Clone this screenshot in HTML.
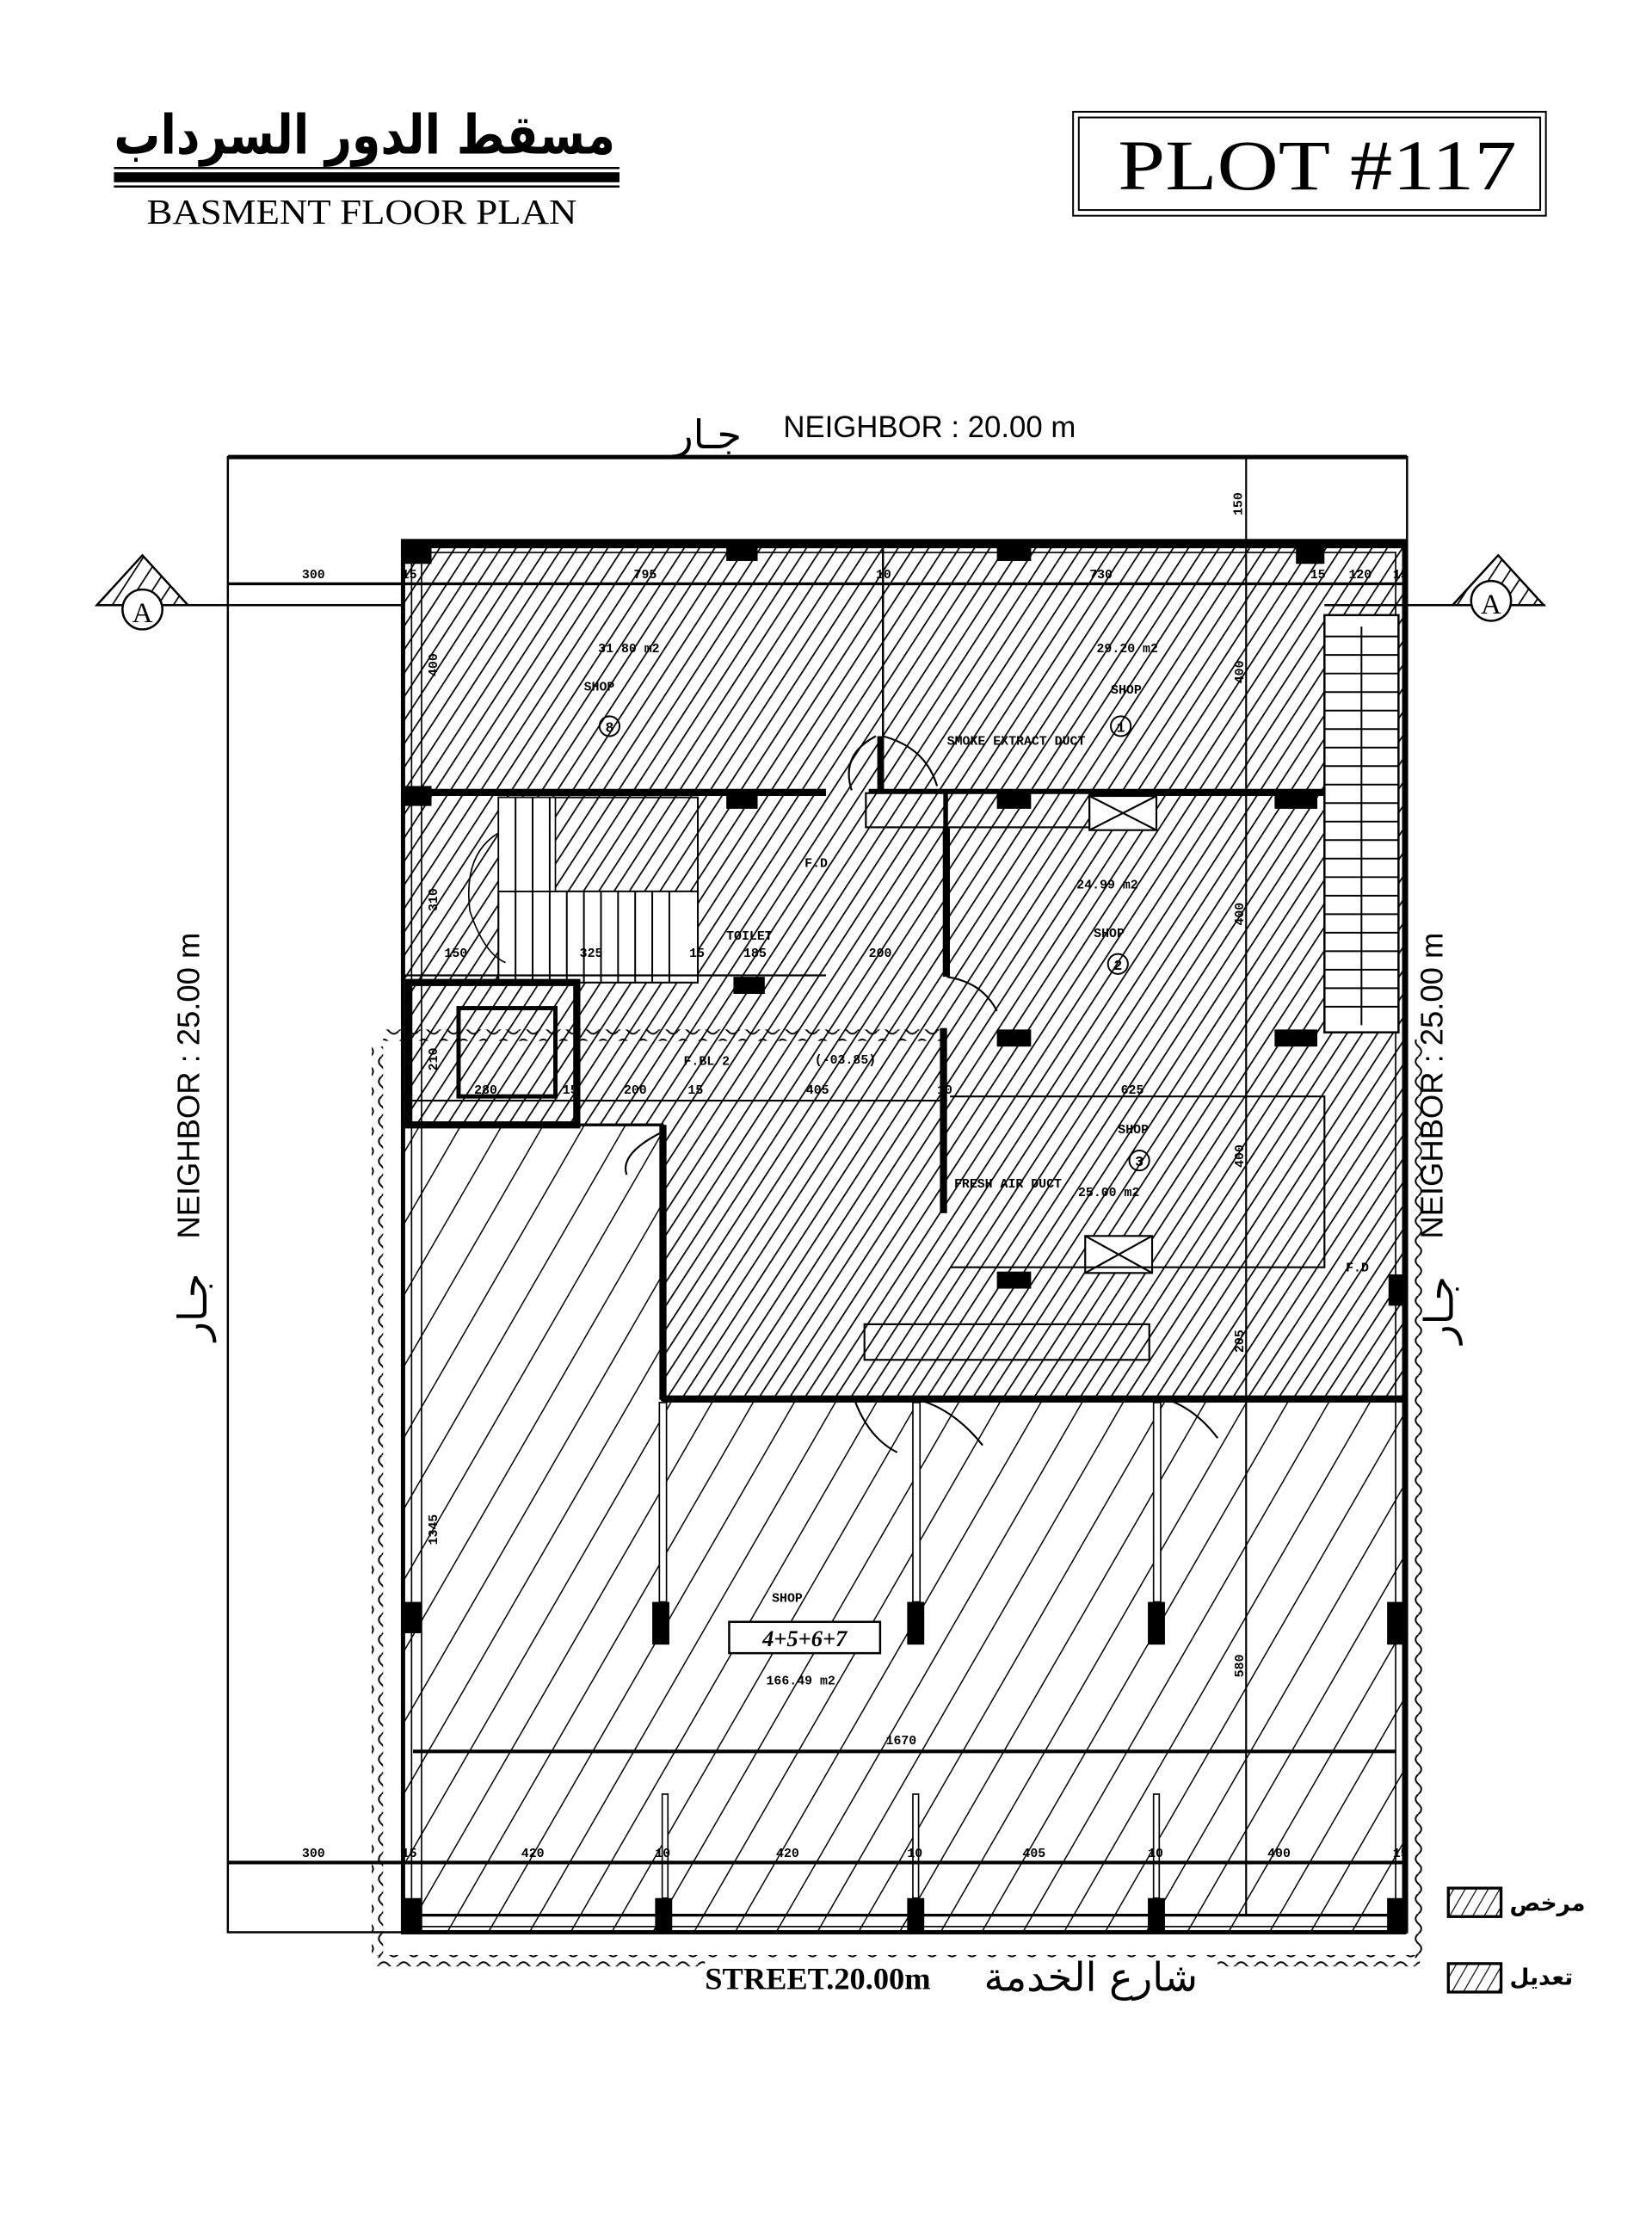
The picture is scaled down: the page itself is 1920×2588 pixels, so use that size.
<!DOCTYPE html>
<html><head><meta charset="utf-8"><style>
html,body{margin:0;padding:0;background:#fff;}
svg{display:block;}
.d{font-family:"Liberation Mono",monospace;font-size:9px;font-weight:bold;fill:#000;}
.s{font-family:"Liberation Sans",sans-serif;}
</style></head><body>
<svg width="1920" height="2588" viewBox="0 0 1160 1564" preserveAspectRatio="none" xmlns="http://www.w3.org/2000/svg">
<defs>
<pattern id="hd" patternUnits="userSpaceOnUse" width="9" height="20" patternTransform="rotate(33)">
<rect width="9" height="20" fill="#fff"/><line x1="0" y1="0" x2="0" y2="20" stroke="#000" stroke-width="2.1"/></pattern>
<pattern id="hs" patternUnits="userSpaceOnUse" width="25" height="40" patternTransform="rotate(30)">
<rect width="25" height="40" fill="#fff"/><line x1="0" y1="0" x2="0" y2="40" stroke="#000" stroke-width="1.8"/></pattern>
<pattern id="wh" patternUnits="userSpaceOnUse" width="14" height="8"><path d="M0 4 q3.5 -4 7 0 t7 0" fill="none" stroke="#000" stroke-width="1.2"/></pattern>
<pattern id="wv" patternUnits="userSpaceOnUse" width="8" height="14"><path d="M4 0 q-4 3.5 0 7 t0 7" fill="none" stroke="#000" stroke-width="1.2"/></pattern>
<pattern id="lg" patternUnits="userSpaceOnUse" width="7" height="20" patternTransform="rotate(30)"><rect width="7" height="20" fill="#fff"/><line x1="0" y1="0" x2="0" y2="20" stroke="#000" stroke-width="1.4"/></pattern>
</defs>

<!-- Title -->
<text x="80" y="108" textLength="352" lengthAdjust="spacingAndGlyphs" font-family="'DejaVu Sans',sans-serif" font-weight="bold" font-size="38">مسقط الدور السرداب</text>
<line x1="80" y1="118" x2="435" y2="118" stroke="#000" stroke-width="1.5"/>
<rect x="80" y="121" width="355" height="7" fill="#000"/>
<line x1="80" y1="131" x2="435" y2="131" stroke="#000" stroke-width="1.5"/>
<text x="103" y="157" font-family="'Liberation Serif',serif" font-size="25" textLength="302" lengthAdjust="spacingAndGlyphs">BASMENT   FLOOR   PLAN</text>

<rect x="753.5" y="78.5" width="332" height="73" fill="none" stroke="#000" stroke-width="1.2"/>
<rect x="757.5" y="82.5" width="324" height="65" fill="none" stroke="#000" stroke-width="1.2"/>
<text x="785" y="133" font-family="'Liberation Serif',serif" font-size="50" textLength="280" lengthAdjust="spacingAndGlyphs">PLOT #117</text>

<!-- top neighbor -->
<text x="497" y="315" text-anchor="middle" font-family="'DejaVu Sans',sans-serif" font-size="28">جـار</text>
<text x="550" y="307" class="s" font-size="21">NEIGHBOR : 20.00 m</text>

<!-- plot outline -->
<rect x="160" y="321" width="828" height="1036" fill="none" stroke="#000" stroke-width="1.5"/>
<line x1="160" y1="321" x2="988" y2="321" stroke="#000" stroke-width="3"/>

<!-- hatched regions -->
<polygon points="283,380 986,380 986,983 465,983 465,790 283,790" fill="url(#hd)" stroke="#000" stroke-width="2"/>
<polygon points="283,790 465,790 465,983 986,983 986,1357 283,1357" fill="url(#hs)" stroke="#000" stroke-width="2"/>

<!-- wavy modification outline -->
<rect x="261" y="735" width="8" height="640" fill="url(#wv)"/>
<rect x="992" y="730" width="8" height="645" fill="url(#wv)"/>
<rect x="265" y="1373" width="732" height="8" fill="url(#wh)"/>
<rect x="269" y="723" width="395" height="8" fill="url(#wh)"/>

<!-- outer borders -->
<rect x="283" y="380" width="703" height="977" fill="none" stroke="#000" stroke-width="3"/>
<line x1="283" y1="383" x2="986" y2="383" stroke="#000" stroke-width="4"/>
<rect x="289" y="388" width="691" height="965" fill="none" stroke="#000" stroke-width="1"/>

<!-- right stair -->
<rect x="930" y="432" width="52" height="293" fill="#fff" stroke="#000" stroke-width="1.5"/>
<g stroke="#000" stroke-width="1.2">
<line x1="930" y1="447" x2="982" y2="447"/><line x1="930" y1="460" x2="982" y2="460"/><line x1="930" y1="473" x2="982" y2="473"/><line x1="930" y1="486" x2="982" y2="486"/><line x1="930" y1="499" x2="982" y2="499"/><line x1="930" y1="512" x2="982" y2="512"/><line x1="930" y1="525" x2="982" y2="525"/><line x1="930" y1="538" x2="982" y2="538"/><line x1="930" y1="551" x2="982" y2="551"/><line x1="930" y1="564" x2="982" y2="564"/><line x1="930" y1="577" x2="982" y2="577"/><line x1="930" y1="590" x2="982" y2="590"/><line x1="930" y1="603" x2="982" y2="603"/><line x1="930" y1="616" x2="982" y2="616"/><line x1="930" y1="629" x2="982" y2="629"/><line x1="930" y1="642" x2="982" y2="642"/><line x1="930" y1="655" x2="982" y2="655"/><line x1="930" y1="668" x2="982" y2="668"/><line x1="930" y1="681" x2="982" y2="681"/><line x1="930" y1="694" x2="982" y2="694"/><line x1="930" y1="707" x2="982" y2="707"/>
<line x1="956" y1="440" x2="956" y2="720"/>
</g>

<!-- left stair -->
<rect x="350" y="560" width="140" height="130" fill="url(#hd)" stroke="#000" stroke-width="1.2"/>
<rect x="350" y="626" width="140" height="64" fill="#fff" stroke="#000" stroke-width="1.2"/>
<rect x="350" y="560" width="40" height="66" fill="#fff" stroke="#000"/>
<g stroke="#000" stroke-width="1.2">
<line x1="362" y1="560" x2="362" y2="690"/><line x1="374" y1="560" x2="374" y2="690"/><line x1="386" y1="560" x2="386" y2="690"/>
<line x1="398" y1="626" x2="398" y2="690"/><line x1="410" y1="626" x2="410" y2="690"/><line x1="422" y1="626" x2="422" y2="690"/><line x1="434" y1="626" x2="434" y2="690"/><line x1="446" y1="626" x2="446" y2="690"/><line x1="458" y1="626" x2="458" y2="690"/><line x1="470" y1="626" x2="470" y2="690"/>
</g>
<path d="M350 585 Q325 600 330 640 Q340 670 355 676" fill="none" stroke="#000"/>

<!-- lift box -->
<rect x="287" y="690" width="118" height="100" fill="none" stroke="#000" stroke-width="5"/>
<rect x="322" y="708" width="68" height="62" fill="none" stroke="#000" stroke-width="3"/>

<!-- walls -->
<g fill="#000">
<rect x="283" y="554" width="297" height="5"/><rect x="610" y="554" width="320" height="5"/>
<rect x="662" y="558" width="5" height="128"/>
<rect x="660" y="722" width="5" height="130"/>
<rect x="463" y="790" width="5" height="193"/>
<rect x="465" y="980" width="521" height="5"/>
<rect x="616" y="517" width="4" height="38"/>
</g>
<g fill="none" stroke="#000" stroke-width="1.3">
<rect x="608" y="557" width="55" height="24" fill="url(#hd)"/>
<rect x="665" y="557" width="100" height="24" fill="url(#hd)"/>
<rect x="765" y="559" width="47" height="24" fill="#fff"/>
<line x1="765" y1="559" x2="812" y2="583"/><line x1="812" y1="559" x2="765" y2="583"/>
<rect x="762" y="868" width="47" height="26" fill="#fff"/>
<line x1="762" y1="868" x2="809" y2="894"/><line x1="809" y1="868" x2="762" y2="894"/>
<rect x="607" y="930" width="200" height="25" fill="url(#hd)"/>
<polyline points="667,890 930,890 930,770 667,770"/>
<line x1="283" y1="685" x2="580" y2="685"/>
<line x1="283" y1="773" x2="665" y2="773"/>
<path d="M615 517 Q590 530 598 555 M620 517 Q650 525 658 552"/>
<path d="M665 686 Q690 690 700 710 M465 795 Q435 810 440 825"/>
<path d="M600 983 Q610 1010 630 1020 M645 983 Q670 990 690 1015 M820 983 Q840 990 855 1010"/>
</g>

<!-- columns -->
<g fill="#000">
<rect x="283" y="380" width="20" height="16"/><rect x="510" y="380" width="22" height="14"/><rect x="700" y="380" width="24" height="14"/><rect x="910" y="380" width="20" height="16"/>
<rect x="283" y="552" width="20" height="14"/><rect x="510" y="556" width="22" height="12"/><rect x="700" y="556" width="24" height="12"/><rect x="895" y="556" width="30" height="12"/>
<rect x="515" y="686" width="22" height="12"/><rect x="700" y="723" width="24" height="12"/><rect x="895" y="723" width="30" height="12"/>
<rect x="700" y="893" width="24" height="12"/>
<rect x="975" y="895" width="11" height="22"/>
<rect x="284" y="1125" width="12" height="22"/><rect x="458" y="1125" width="12" height="30"/><rect x="637" y="1125" width="12" height="30"/><rect x="806" y="1125" width="12" height="30"/><rect x="974" y="1125" width="12" height="30"/>
<rect x="284" y="1333" width="12" height="24"/><rect x="460" y="1333" width="12" height="24"/><rect x="637" y="1333" width="12" height="24"/><rect x="806" y="1333" width="12" height="24"/><rect x="974" y="1333" width="12" height="24"/>
</g>
<g fill="#fff" stroke="#000" stroke-width="1">
<rect x="463" y="985" width="5" height="140"/><rect x="641" y="985" width="5" height="140"/><rect x="810" y="985" width="5" height="140"/>
<rect x="465" y="1260" width="4" height="73"/><rect x="641" y="1260" width="4" height="73"/><rect x="810" y="1260" width="4" height="73"/>
</g>
<line x1="290" y1="1230" x2="980" y2="1230" stroke="#000" stroke-width="2.5"/>
<line x1="290" y1="1345" x2="980" y2="1345" stroke="#000" stroke-width="2"/>

<!-- dimension lines -->
<line x1="160" y1="410" x2="988" y2="410" stroke="#000" stroke-width="2"/>
<line x1="160" y1="1308" x2="988" y2="1308" stroke="#000" stroke-width="2.5"/>
<line x1="875" y1="320" x2="875" y2="1345" stroke="#000" stroke-width="1.3"/>
<line x1="296" y1="388" x2="296" y2="1357" stroke="#000" stroke-width="1"/>
<line x1="620" y1="383" x2="620" y2="555" stroke="#000" stroke-width="1.5"/>

<!-- section markers -->
<g stroke="#000" stroke-width="1.5">
<line x1="70" y1="425" x2="283" y2="425"/><line x1="930" y1="425" x2="1085" y2="425"/>
<path d="M68 425 L100 390 L132 425 Z" fill="url(#hd)"/>
<path d="M1020 425 L1052 390 L1084 425 Z" fill="url(#hd)"/>
<circle cx="100" cy="428" r="14" fill="#fff"/><circle cx="1047" cy="422" r="14" fill="#fff"/>
</g>
<text x="100" y="437" text-anchor="middle" font-family="'Liberation Serif',serif" font-size="20">A</text>
<text x="1047" y="431" text-anchor="middle" font-family="'Liberation Serif',serif" font-size="20">A</text>

<!-- dimension texts -->
<g class="d">
<text x="212" y="406">300</text><text x="282" y="406">15</text><text x="445" y="406">795</text><text x="615" y="406">10</text><text x="765" y="406">730</text><text x="920" y="406">15</text><text x="947" y="406">120</text><text x="978" y="406">15</text>
<text x="212" y="1304">300</text><text x="282" y="1304">15</text><text x="366" y="1304">420</text><text x="460" y="1304">10</text><text x="545" y="1304">420</text><text x="637" y="1304">10</text><text x="718" y="1304">405</text><text x="806" y="1304">10</text><text x="890" y="1304">400</text><text x="978" y="1304">15</text>
<text x="622" y="1225">1670</text>
<text x="420" y="458">31.80 m2</text><text x="410" y="485">SHOP</text>
<text x="770" y="458">29.20 m2</text><text x="780" y="487">SHOP</text>
<text x="756" y="624">24.99 m2</text><text x="768" y="658">SHOP</text>
<text x="787" y="768">625</text><text x="785" y="796">SHOP</text>
<text x="757" y="840">25.00 m2</text>
<text x="542" y="1125">SHOP</text><text x="538" y="1183">166.49 m2</text>
<text x="665" y="523">SMOKE EXTRACT DUCT</text>
<text x="670" y="834">FRESH AIR DUCT</text>
<text x="565" y="609">F.D</text><text x="945" y="893">F.D</text>
<text x="510" y="660">TOILET</text>
<text x="480" y="748">F.BL/2</text><text x="572" y="747">(-03.85)</text>
<text x="312" y="672">150</text><text x="407" y="672">325</text><text x="484" y="672">15</text><text x="522" y="672">185</text><text x="610" y="672">200</text>
<text x="333" y="768">280</text><text x="395" y="768">15</text><text x="438" y="768">200</text><text x="483" y="768">15</text><text x="566" y="768">405</text><text x="658" y="768">10</text>
</g>
<g class="d">
<text transform="translate(307,475) rotate(-90)">400</text>
<text transform="translate(873,480) rotate(-90)">400</text>
<text transform="translate(307,640) rotate(-90)">310</text>
<text transform="translate(873,650) rotate(-90)">400</text>
<text transform="translate(307,752) rotate(-90)">210</text>
<text transform="translate(873,820) rotate(-90)">400</text>
<text transform="translate(873,950) rotate(-90)">205</text>
<text transform="translate(307,1085) rotate(-90)">1345</text>
<text transform="translate(873,1178) rotate(-90)">580</text>
<text transform="translate(872,362) rotate(-90)">150</text>
</g>
<g fill="none" stroke="#000" stroke-width="1.2">
<circle cx="428" cy="510" r="7"/><circle cx="787" cy="510" r="7"/><circle cx="785" cy="677" r="7"/><circle cx="800" cy="815" r="7"/>
</g>
<g font-family="'Liberation Mono',monospace" font-size="10" font-weight="bold">
<text x="425" y="514">8</text><text x="784" y="514">1</text><text x="782" y="681">2</text><text x="797" y="819">3</text>
</g>
<rect x="512" y="1139" width="106" height="22" fill="#fff" stroke="#000" stroke-width="1.5"/>
<text x="565" y="1156" text-anchor="middle" font-family="'Liberation Serif',serif" font-style="italic" font-weight="bold" font-size="16">4+5+6+7</text>

<!-- side neighbors -->
<text transform="translate(140,870) rotate(-90)" class="s" font-size="22">NEIGHBOR : 25.00 m</text>
<text transform="translate(1013,870) rotate(-90)" class="s" font-size="22">NEIGHBOR : 25.00 m</text>
<text transform="translate(145,918) rotate(-90)" font-family="'DejaVu Sans',sans-serif" font-size="28" text-anchor="middle">جـار</text>
<text transform="translate(1020,920) rotate(-90)" font-family="'DejaVu Sans',sans-serif" font-size="28" text-anchor="middle">جـار</text>

<!-- street -->
<rect x="495" y="1375" width="360" height="30" fill="#fff"/>
<text x="495" y="1397" font-family="'Liberation Serif',serif" font-weight="bold" font-size="22">STREET.20.00m</text>
<text x="766" y="1398" text-anchor="middle" font-family="'DejaVu Sans',sans-serif" font-size="28">شارع الخدمة</text>

<!-- legend -->
<rect x="1017" y="1326" width="37" height="20" fill="url(#lg)" stroke="#000" stroke-width="2"/>
<rect x="1017" y="1379" width="37" height="20" fill="url(#lg)" stroke="#000" stroke-width="2"/>
<text x="1060" y="1342" font-family="'DejaVu Sans',sans-serif" font-weight="bold" font-size="16">مرخص</text>
<text x="1060" y="1394" font-family="'DejaVu Sans',sans-serif" font-weight="bold" font-size="16">تعديل</text>
</svg>
</body></html>
